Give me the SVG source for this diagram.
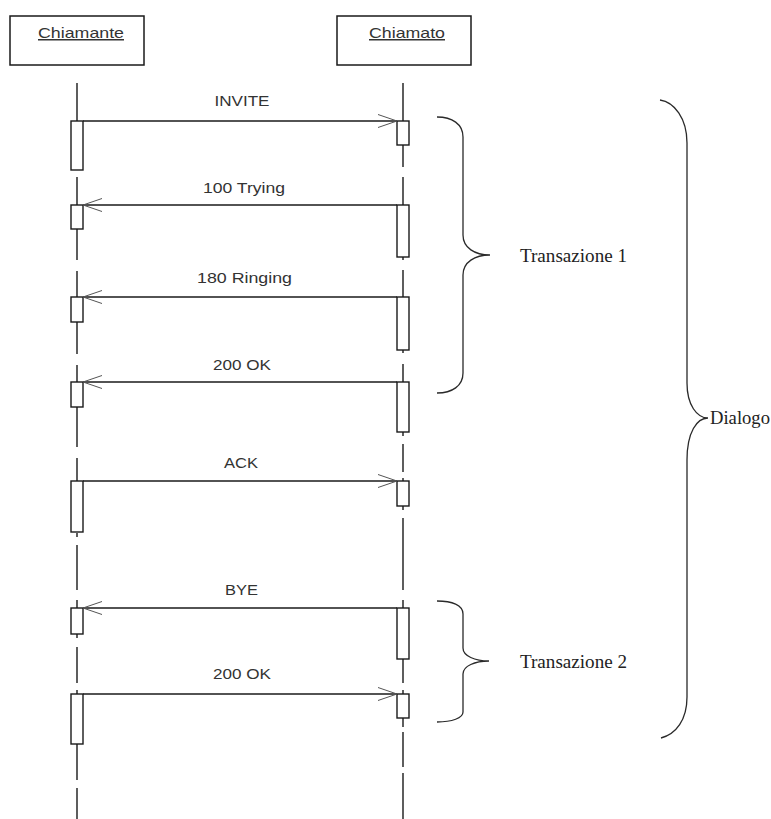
<svg xmlns="http://www.w3.org/2000/svg" width="771" height="819" viewBox="0 0 771 819">
  <style>
    .box { fill: #fff; stroke: #1a1a1a; stroke-width: 1.5; }
    .act { fill: #fff; stroke: #1a1a1a; stroke-width: 1.4; }
    .life { fill: none; stroke: #1a1a1a; stroke-width: 1.4; }
    .msg { fill: none; stroke: #1a1a1a; stroke-width: 1.3; }
    .brace { fill: none; stroke: #2a2a2a; stroke-width: 1.3; }
    .lbl { font-family: "Liberation Sans", Arial, sans-serif; font-size: 15px; fill: #333; text-anchor: middle; }
    .name { font-family: "Liberation Sans", Arial, sans-serif; font-size: 15px; fill: #333; text-decoration: underline; }
    .note { font-family: "Liberation Serif", "Times New Roman", serif; font-size: 18px; fill: #222; }
  </style>
  <defs>
    <marker id="open" markerUnits="userSpaceOnUse" markerWidth="24" markerHeight="16" refX="20" refY="8" orient="auto">
      <path d="M1,1.5 L20,8 L1,14.5" fill="none" stroke="#555" stroke-width="1"/>
    </marker>
  </defs>

  <!-- participants -->
  <g id="chiamante">
    <rect class="box" x="10" y="16" width="134" height="49"/>
    <text class="name" x="38" y="38" textLength="86" lengthAdjust="spacingAndGlyphs">Chiamante</text>
  </g>
  <g id="chiamato">
    <rect class="box" x="337" y="16" width="134" height="49"/>
    <text class="name" x="369" y="38" textLength="76" lengthAdjust="spacingAndGlyphs">Chiamato</text>
  </g>

  <!-- lifelines -->
  <g id="lifelines">
    <path class="life" d="M77 83 V121 M77 177 V205 M77 229 V260 M77 271 V297 M77 322 V354 M77 365 V382 M77 407 V447 M77 458 V481 M77 533 V537 M77 545 V590 M77 600 V608 M77 634 V638 M77 647 V683 M77 690 V694 M77 744 V780 M77 788 V819"/>
    <path class="life" d="M403 83 V121 M403 145 V167 M403 177 V205 M403 257 V260 M403 270 V297 M403 350 V353 M403 364 V382 M403 432 V436 M403 444 V472 M403 478 V481 M403 506 V510 M403 518 V590 M403 600 V608 M403 659 V683 M403 690 V694 M403 718 V727 M403 732 V767 M403 773 V819"/>
  </g>

  <!-- activations -->
  <g id="activations">
    <rect class="act" x="71" y="121" width="12" height="49"/>
    <rect class="act" x="71" y="205" width="12" height="24"/>
    <rect class="act" x="71" y="297" width="12" height="25"/>
    <rect class="act" x="71" y="382" width="12" height="25"/>
    <rect class="act" x="71" y="481" width="12" height="51"/>
    <rect class="act" x="71" y="608" width="12" height="26"/>
    <rect class="act" x="71" y="694" width="12" height="50"/>
    <rect class="act" x="397" y="121" width="12" height="24"/>
    <rect class="act" x="397" y="205" width="12" height="52"/>
    <rect class="act" x="397" y="297" width="12" height="53"/>
    <rect class="act" x="397" y="382" width="12" height="50"/>
    <rect class="act" x="397" y="481" width="12" height="25"/>
    <rect class="act" x="397" y="608" width="12" height="51"/>
    <rect class="act" x="397" y="694" width="12" height="24"/>
  </g>

  <!-- messages -->
  <g id="connectors">
    <line class="msg" x1="83" y1="121" x2="397" y2="121" marker-end="url(#open)"/>
    <line class="msg" x1="397" y1="205" x2="83" y2="205" marker-end="url(#open)"/>
    <line class="msg" x1="397" y1="297" x2="83" y2="297" marker-end="url(#open)"/>
    <line class="msg" x1="397" y1="382" x2="83" y2="382" marker-end="url(#open)"/>
    <line class="msg" x1="83" y1="481" x2="397" y2="481" marker-end="url(#open)"/>
    <line class="msg" x1="397" y1="608" x2="83" y2="608" marker-end="url(#open)"/>
    <line class="msg" x1="83" y1="694" x2="397" y2="694" marker-end="url(#open)"/>
  </g>

  <g id="labels">
    <text class="lbl" x="242" y="106" textLength="55" lengthAdjust="spacingAndGlyphs">INVITE</text>
    <text class="lbl" x="244" y="193" textLength="82" lengthAdjust="spacingAndGlyphs">100 Trying</text>
    <text class="lbl" x="244.5" y="283" textLength="95" lengthAdjust="spacingAndGlyphs">180 Ringing</text>
    <text class="lbl" x="242" y="370" textLength="58" lengthAdjust="spacingAndGlyphs">200 OK</text>
    <text class="lbl" x="241" y="468" textLength="34" lengthAdjust="spacingAndGlyphs">ACK</text>
    <text class="lbl" x="241.5" y="595" textLength="33" lengthAdjust="spacingAndGlyphs">BYE</text>
    <text class="lbl" x="242" y="679" textLength="58" lengthAdjust="spacingAndGlyphs">200 OK</text>
  </g>

  <!-- groupings -->
  <g id="transazione1">
    <path class="brace" d="M437 117 C452 117 463 124 463 137 V235 C463 248 475 255 490 255 C475 255 463 262 463 275 V373 C463 386 452 393 437 393"/>
    <text class="note" x="520" y="262" textLength="107" lengthAdjust="spacingAndGlyphs">Transazione 1</text>
  </g>
  <g id="transazione2">
    <path class="brace" d="M437 601 C452 601 463 605 463 614 V648 C463 656 475 661 489 661 C475 661 463 666 463 674 V712 C463 718 452 722 437 722"/>
    <text class="note" x="520" y="668" textLength="107" lengthAdjust="spacingAndGlyphs">Transazione 2</text>
  </g>
  <g id="dialogo">
    <path class="brace" d="M660 100 C674 102 687 118 687 143 V383 C687 405 697 418 708 418 C697 418 687 432 687 460 V697 C687 720 676 734 661 738"/>
    <text class="note" x="710" y="424" textLength="60" lengthAdjust="spacingAndGlyphs">Dialogo</text>
  </g>
</svg>
